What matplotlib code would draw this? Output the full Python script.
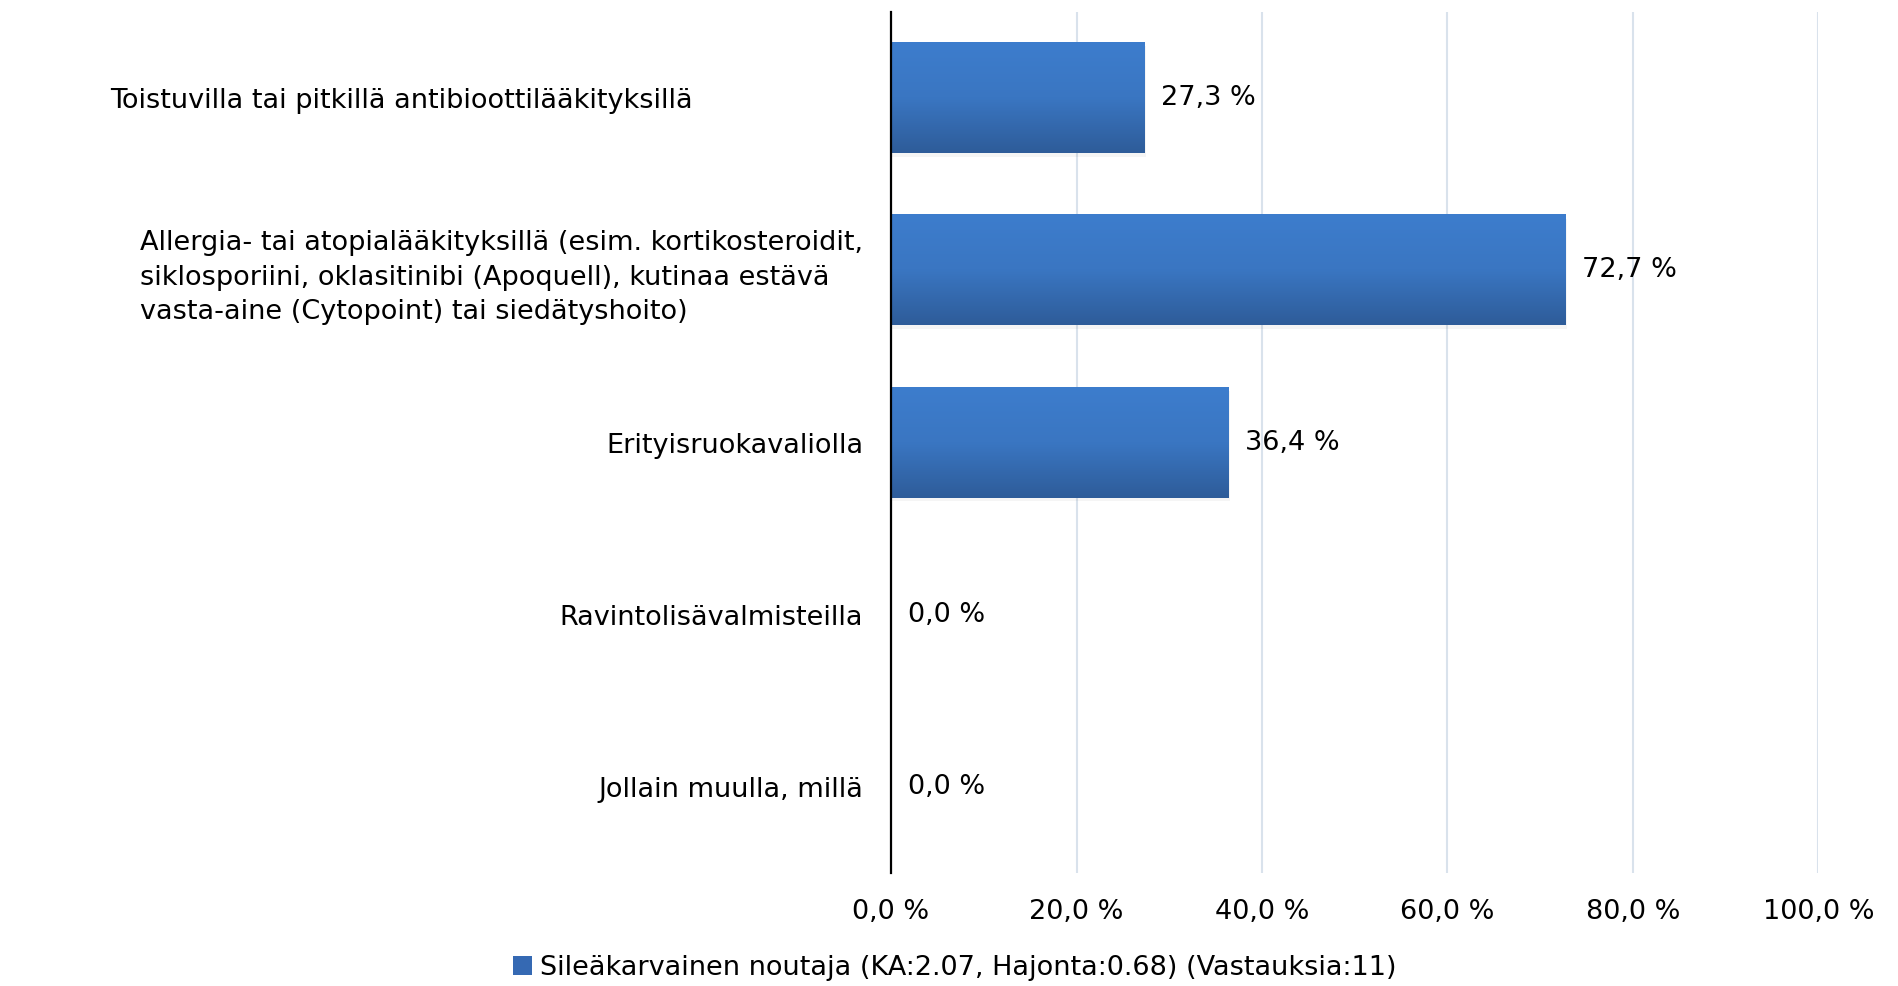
import numpy as np
import matplotlib
matplotlib.use("Agg")
import matplotlib.pyplot as plt
from matplotlib.colors import LinearSegmentedColormap
from matplotlib.patches import Patch
from matplotlib.transforms import ScaledTranslation

# data
categories = [
    "Toistuvilla tai pitkillä antibioottilääkityksillä",
    "Allergia- tai atopialääkityksillä (esim. kortikosteroidit,\n"
    "siklosporiini, oklasitinibi (Apoquell), kutinaa estävä\n"
    "vasta-aine (Cytopoint) tai siedätyshoito)",
    "Erityisruokavaliolla",
    "Ravintolisävalmisteilla",
    "Jollain muulla, millä",
]
values = [27.3, 72.7, 36.4, 0.0, 0.0]
xticks = [0, 20, 40, 60, 80, 100]
series_name = "Sileäkarvainen noutaja (KA:2.07, Hajonta:0.68) (Vastauksia:11)"

plt.rcParams['font.family'] = ['DejaVu Sans']
fs = 19.5

fig = plt.figure(figsize=(18.99, 9.86), dpi=100)
ax = fig.add_axes([0.4692, 0.1146, 0.4884, 0.8732])

y = np.arange(len(categories))
bar_h = 0.64
bars = ax.barh(y, values, height=bar_h, color="#3569B3", zorder=2)

# gradient fill + soft shadow on each bar
cmap = LinearSegmentedColormap.from_list("blu", ["#3D7DCD", "#3A76C2", "#2E5C99"])
grad = np.linspace(0, 1, 256).reshape(-1, 1)
for b in bars:
    x0, w = b.get_x(), b.get_width()
    y0, h = b.get_y(), b.get_height()
    if w <= 0:
        continue
    ax.barh(y0 + h / 2 + 0.02, w + 0.2, height=h, left=x0,
            color="#000000", alpha=0.04, zorder=1.5)
    ax.imshow(grad, cmap=cmap, aspect="auto", origin="upper",
              extent=[x0, x0 + w, y0 + h, y0], zorder=2.5)
    b.set_visible(False)

ax.set_xlim(0, 100)
ax.set_ylim(len(categories) - 0.5, -0.5)

# value labels
for yi, v in zip(y, values):
    ax.annotate(f"{v:.1f} %".replace(".", ","), (v, yi), xytext=(12, 0),
                textcoords="offset points", va="center", ha="left", fontsize=fs)

# axes styling
ax.set_xticks(xticks)
ax.set_xticklabels([f"{t:.1f} %".replace(".", ",") for t in xticks], fontsize=fs)
ax.tick_params(axis="x", length=0, pad=19)
ax.xaxis.grid(True, color="#D9E2EC", linewidth=1.5, zorder=0)
ax.set_axisbelow(True)
for s in ["top", "right", "bottom"]:
    ax.spines[s].set_visible(False)
ax.spines["left"].set_linewidth(1.6)
ax.spines["left"].set_zorder(3)

ax.set_yticks(y)
ax.set_yticklabels(categories, fontsize=fs, linespacing=1.42)
ax.tick_params(axis="y", length=0, pad=20)
labels = ax.get_yticklabels()
labels[1].set_multialignment("left")
labels[0].set_transform(labels[0].get_transform()
                        + ScaledTranslation(-1.70, 0, fig.dpi_scale_trans))

# legend
handle = Patch(facecolor="#3569B3", edgecolor="none")
fig.legend([handle], [series_name], loc="center", bbox_to_anchor=(0.503, 0.018),
           frameon=False, fontsize=fs, handlelength=0.7, handleheight=0.7,
           handletextpad=0.3)

fig.savefig("out.png", dpi=100, facecolor="white")
